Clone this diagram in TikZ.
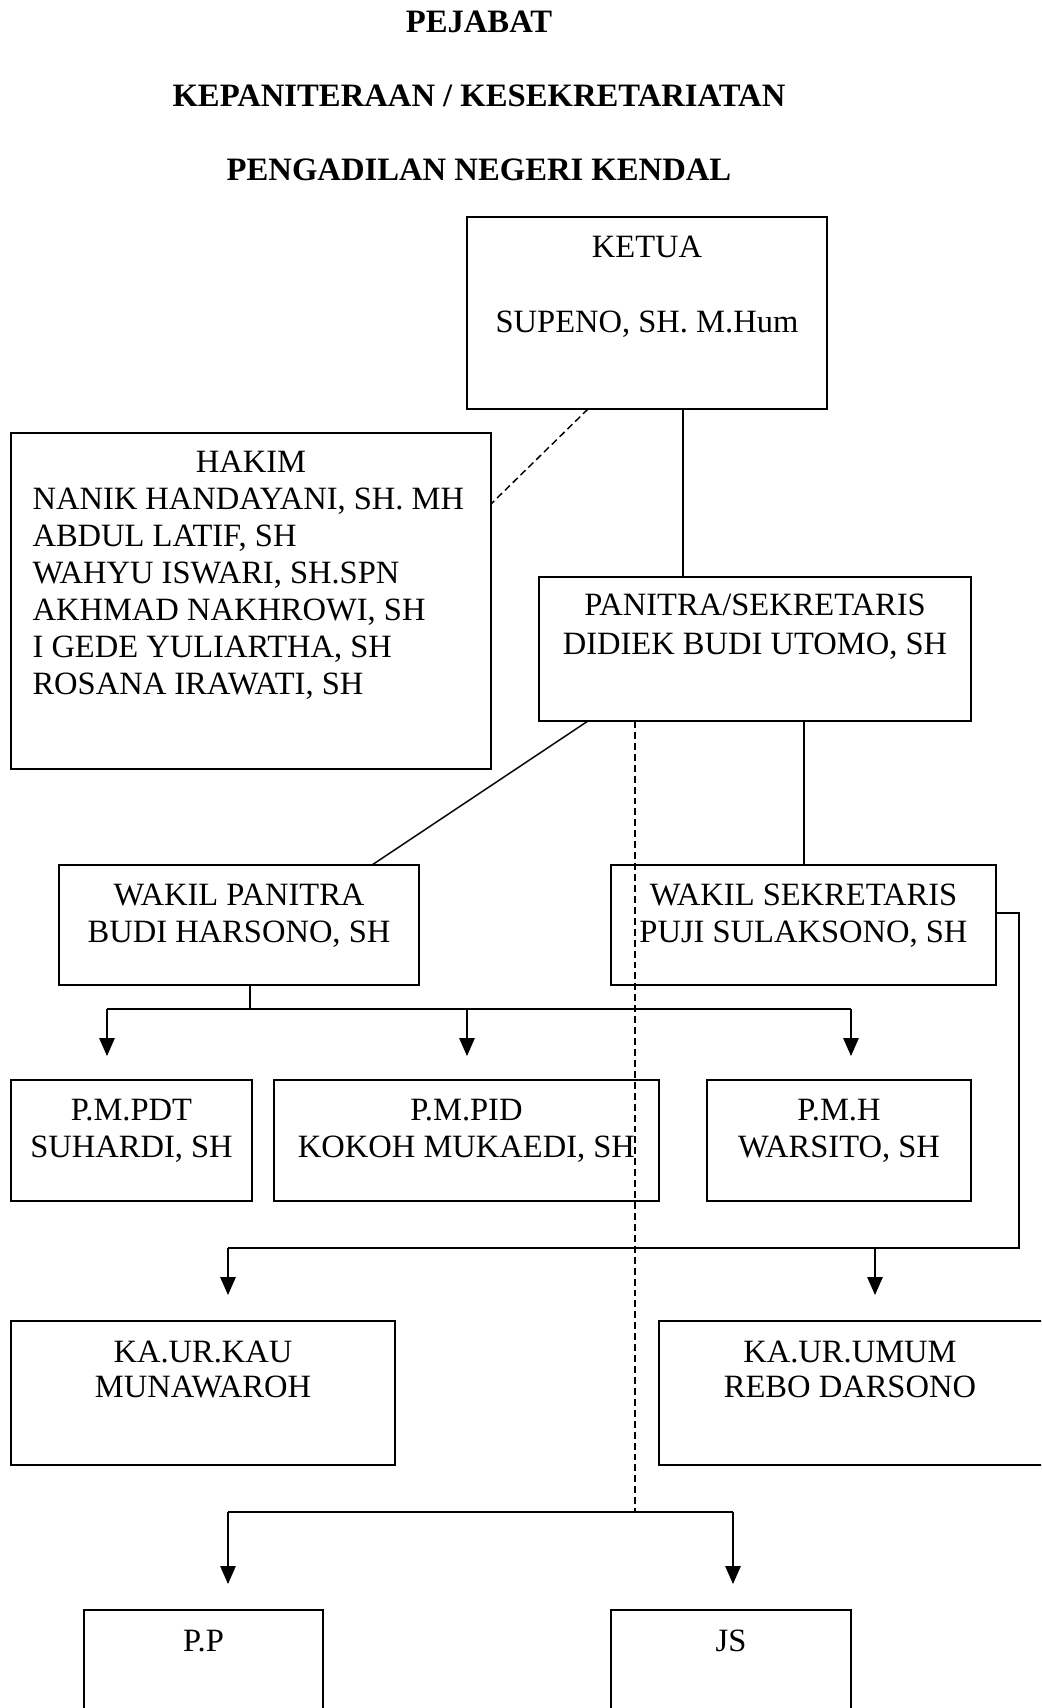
\documentclass[tikz,border=0pt]{standalone}
\usepackage{fontspec}
\setmainfont{Liberation Serif}
\usetikzlibrary{arrows.meta,calc,fit}
\tikzset{
  box/.style={draw, line width=0.75pt, inner sep=0pt, outer sep=0pt},
  lbl/.style={inner sep=0pt, anchor=base, font=\fontsize{12.2}{14}\selectfont},
  ttl/.style={inner sep=0pt, anchor=base, font=\fontsize{12.25}{14}\selectfont\bfseries},
  conn/.style={line width=0.55pt},
  arr/.style={conn, -{Triangle[length=6.75pt,width=5.8pt]}},
  dsh/.style={conn, dash pattern=on 2.6pt off 1.5pt},
}
\begin{document}
\begin{tikzpicture}[x=0.375pt,y=-0.375pt]
\useasboundingbox (0,0) rectangle (1041,1708);
\fill[white] (0,0) rectangle (1041,1708);
\clip (0,0) rectangle (1041,1708);

% titles
\node[ttl] (t1) at (479,32) {PEJABAT};
\node[ttl] (t2) at (479,106) {KEPANITERAAN / KESEKRETARIATAN};
\node[ttl] (t3) at (479,180) {PENGADILAN NEGERI KENDAL};

% boxes
\node[box, fit={(467,217) (827,409)}] (ketua) {};
\node[box, fit={(11,433) (491,769)}] (hakim) {};
\node[box, fit={(539,577) (971,721)}] (panitra) {};
\node[box, fit={(59,865) (419,985)}] (wpan) {};
\node[box, fit={(611,865) (996,985)}] (wsek) {};
\node[box, fit={(11,1080) (252,1201)}] (pmpdt) {};
\node[box, fit={(274,1080) (659,1201)}] (pmpid) {};
\node[box, fit={(707,1080) (971,1201)}] (pmh) {};
\node[box, fit={(11,1321) (395,1465)}] (kau) {};
\node[box, fit={(659,1321) (1050,1465)}] (umum) {};
\node[box, fit={(84,1610) (323,1720)}] (pp) {};
\node[box, fit={(611,1610) (851,1720)}] (js) {};

% texts
\node[lbl] (ketuaA) at ($(ketua.north)+(0,40)$) {KETUA};
\node[lbl] (ketuaB) at ($(ketua.north)+(0,115)$) {SUPENO, SH. M.Hum};

\node[lbl] (hakA) at ($(hakim.north)+(0,39)$) {HAKIM};
\node[lbl, anchor=base west] (hak1) at ($(hakim.north west)+(21,76)$) {NANIK HANDAYANI, SH. MH};
\node[lbl, anchor=base west] (hak2) at ($(hakim.north west)+(21,113)$) {ABDUL LATIF, SH};
\node[lbl, anchor=base west] (hak3) at ($(hakim.north west)+(21,150)$) {WAHYU ISWARI, SH.SPN};
\node[lbl, anchor=base west] (hak4) at ($(hakim.north west)+(21,187)$) {AKHMAD NAKHROWI, SH};
\node[lbl, anchor=base west] (hak5) at ($(hakim.north west)+(21,224)$) {I GEDE YULIARTHA, SH};
\node[lbl, anchor=base west] (hak6) at ($(hakim.north west)+(21,261)$) {ROSANA IRAWATI, SH};

\node[lbl] (panA) at ($(panitra.north)+(0,38)$) {PANITRA/SEKRETARIS};
\node[lbl] (panB) at ($(panitra.north)+(0,77)$) {DIDIEK BUDI UTOMO, SH};

\node[lbl] (wpA) at ($(wpan.north)+(0,40)$) {WAKIL PANITRA};
\node[lbl] (wpB) at ($(wpan.north)+(0,77)$) {BUDI HARSONO, SH};

\node[lbl] (wsA) at ($(wsek.north)+(0,40)$) {WAKIL SEKRETARIS};
\node[lbl] (wsB) at ($(wsek.north)+(0,77)$) {PUJI SULAKSONO, SH};

\node[lbl] (pdtA) at ($(pmpdt.north)+(0,40)$) {P.M.PDT};
\node[lbl] (pdtB) at ($(pmpdt.north)+(0,77)$) {SUHARDI, SH};

\node[lbl] (pidA) at ($(pmpid.north)+(0,40)$) {P.M.PID};
\node[lbl] (pidB) at ($(pmpid.north)+(0,77)$) {KOKOH MUKAEDI, SH};

\node[lbl] (pmhA) at ($(pmh.north)+(0,40)$) {P.M.H};
\node[lbl] (pmhB) at ($(pmh.north)+(0,77)$) {WARSITO, SH};

\node[lbl] (kauA) at ($(kau.north)+(0,41)$) {KA.UR.KAU};
\node[lbl] (kauB) at ($(kau.north)+(0,76)$) {MUNAWAROH};

\node[lbl] (umA) at ($(umum.north west)+(191,41)$) {KA.UR.UMUM};
\node[lbl] (umB) at ($(umum.north west)+(191,76)$) {REBO DARSONO};

\node[lbl] (ppA) at ($(pp.north)+(0,41)$) {P.P};
\node[lbl] (jsA) at ($(js.north)+(0,41)$) {JS};

% connectors
\draw[dsh] ($(ketua.south west)+(121,0)$) -- ($(hakim.north east)+(0,71)$);
\draw[conn] ($(ketua.south west)+(216,0)$) -- ($(panitra.north west)+(144,0)$);
\draw[conn] ($(panitra.south west)+(49,0)$) -- ($(wpan.north west)+(313,0)$);
\draw[conn] ($(panitra.south west)+(265,0)$) -- ($(wsek.north west)+(193,0)$);

\coordinate (jn) at (635,1512);
\draw[dsh] ($(panitra.south west)+(96,0)$) -- (jn);

% wakil panitra bus
\coordinate (wb) at (250,1009);
\coordinate (b1) at (107,1009);
\coordinate (b2) at (467,1009);
\coordinate (b3) at (851,1009);
\draw[conn] ($(wpan.south west)+(191,0)$) -- (wb);
\draw[conn] (b1) -- (b3);
\draw[arr] (b1) -- ($(pmpdt.north west)+(96,-24)$);
\draw[arr] (b2) -- ($(pmpid.north west)+(193,-24)$);
\draw[arr] (b3) -- ($(pmh.north west)+(144,-24)$);

% wakil sekretaris bus
\coordinate (rc) at (1019,1248);
\coordinate (lb) at (228,1248);
\coordinate (ub) at (875,1248);
\draw[conn] ($(wsek.north east)+(0,48)$) -| (rc) -- (lb);
\draw[arr] (lb) -- ($(kau.north west)+(217,-26)$);
\draw[arr] (ub) -- ($(umum.north west)+(216,-26)$);

% bottom bus
\coordinate (c1) at (228,1512);
\coordinate (c2) at (733,1512);
\draw[conn] (c1) -- (c2);
\draw[arr] (c1) -- ($(pp.north west)+(144,-26)$);
\draw[arr] (c2) -- ($(js.north west)+(122,-26)$);
\end{tikzpicture}
\end{document}
